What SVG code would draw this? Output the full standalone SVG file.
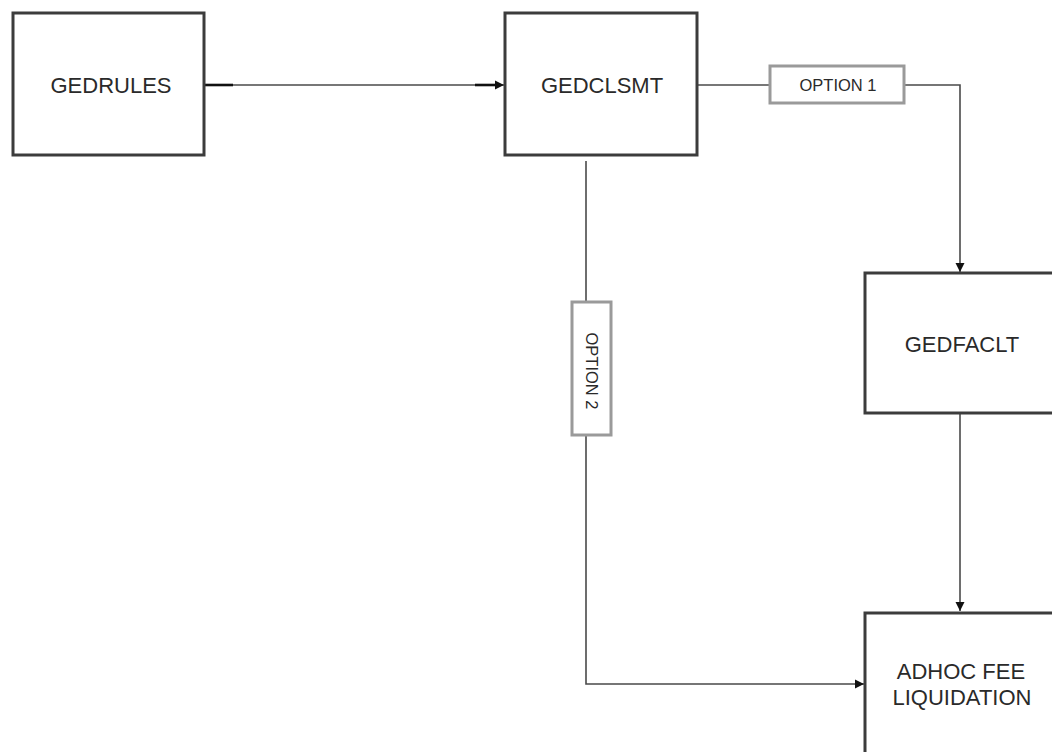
<svg xmlns="http://www.w3.org/2000/svg" width="1052" height="752" viewBox="0 0 1052 752">
<defs>
<style>
.box{fill:#ffffff;stroke:#3c3c3c;stroke-width:3}
.opt{fill:#ffffff;stroke:#9a9a9a;stroke-width:3}
.lbl{font-family:"Liberation Sans",Arial,sans-serif;font-size:22px;fill:#2a2a2a;text-anchor:middle}
.olbl{font-family:"Liberation Sans",Arial,sans-serif;font-size:16.5px;fill:#2a2a2a;text-anchor:middle}
.edge{fill:none;stroke:#4a4a4a;stroke-width:1.6}
.thick{fill:none;stroke:#111111;stroke-width:2.6}
</style>
<marker id="arr" viewBox="0 0 10 10" refX="10" refY="5" markerWidth="9" markerHeight="10" markerUnits="userSpaceOnUse" orient="auto">
<path d="M0,0 L10,5 L0,10 Z" fill="#111111"/>
</marker>
</defs>
<rect width="1052" height="752" fill="#ffffff"/>
<g id="connectors">
<path class="edge" d="M204,85 H504" marker-end="url(#arr)"/>
<path class="thick" d="M204,85 H233"/>
<path class="thick" d="M475,85 H497"/>
<path class="edge" d="M697,85 H770"/>
<path class="edge" d="M904,85 H960 V272" marker-end="url(#arr)"/>
<path class="edge" d="M960,414 V611" marker-end="url(#arr)"/>
<path class="edge" d="M586,161 V302"/>
<path class="edge" d="M586,435 V684 H864" marker-end="url(#arr)"/>
</g>
<g id="gedrules">
<rect class="box" x="13" y="13" width="191" height="142"/>
<text class="lbl" x="111" y="93">GEDRULES</text>
</g>
<g id="gedclsmt">
<rect class="box" x="505" y="13" width="192" height="142"/>
<text class="lbl" x="602" y="93">GEDCLSMT</text>
</g>
<g id="option1">
<rect class="opt" x="770" y="66" width="134" height="37"/>
<text class="olbl" x="838" y="91">OPTION 1</text>
</g>
<g id="option2">
<rect class="opt" x="572" y="302" width="39" height="133"/>
<text class="olbl" transform="translate(586,371) rotate(90)" x="0" y="0">OPTION 2</text>
</g>
<g id="gedfaclt">
<rect class="box" x="865" y="273" width="196" height="140"/>
<text class="lbl" x="962" y="352">GEDFACLT</text>
</g>
<g id="adhoc">
<rect class="box" x="865" y="613" width="196" height="160"/>
<text class="lbl" x="961" y="679">ADHOC FEE</text>
<text class="lbl" x="962" y="705">LIQUIDATION</text>
</g>
</svg>
